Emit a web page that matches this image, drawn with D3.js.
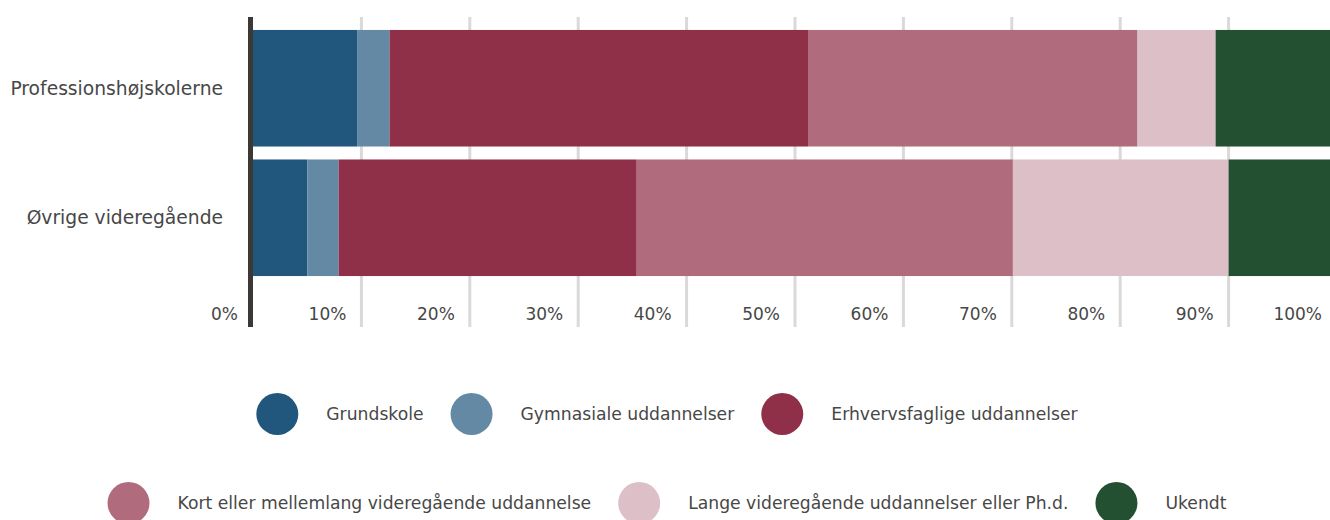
<!DOCTYPE html>
<html>
<head>
<meta charset="utf-8">
<script src="https://cdn.jsdelivr.net/npm/d3@7"></script>
<style>
  body { margin: 0; background: #fff; }
  svg text { font-family: "DejaVu Sans", sans-serif; fill: #474747; }
</style>
</head>
<body>
<div id="chart"></div>
<script>
// data (percent of students)
const categories = ['Professionshøjskolerne', 'Øvrige videregående'];
const seriesNames = [
  'Grundskole',
  'Gymnasiale uddannelser',
  'Erhvervsfaglige uddannelser',
  'Kort eller mellemlang videregående uddannelse',
  'Lange videregående uddannelser eller Ph.d.',
  'Ukendt'
];
const profValues = [9.6, 3.0, 38.6, 30.4, 7.2, 11.2];
const oevrigeValues = [5.0, 2.9, 27.5, 34.7, 19.9, 10.0];
const tickValues = [0, 10, 20, 30, 40, 50, 60, 70, 80, 90, 100];
const colors = ['#22577d', '#6489a5', '#8f2f48', '#b06c7d', '#ddbfc7', '#245032'];
const legendRows = [[0, 1, 2], [3, 4, 5]];

const width = 1330, height = 520;

const svg = d3.select('#chart').append('svg')
  .attr('width', width)
  .attr('height', height);

const xScale = d3.scaleLinear()
  .domain([0, 100])
  .range([253, 1337]);
const yScale = d3.scaleBand()
  .domain(categories)
  .range([17, 289])
  .paddingInner(0.1)
  .paddingOuter(0.1);

const color = d3.scaleOrdinal().domain(seriesNames).range(colors);

// grid lines
svg.append('g')
  .selectAll('line')
  .data(tickValues.filter(d => d > 0 && d < 100))
  .enter().append('line')
  .attr('x1', d => xScale(d))
  .attr('x2', d => xScale(d))
  .attr('y1', 17)
  .attr('y2', 327)
  .attr('stroke', '#d9d9d9')
  .attr('stroke-width', 3);

// stacked bars
const rows = categories.map((c, i) => {
  const vals = i === 0 ? profValues : oevrigeValues;
  const row = {category: c};
  seriesNames.forEach((s, j) => row[s] = vals[j]);
  return row;
});
const stacked = d3.stack().keys(seriesNames)(rows);

svg.append('g')
  .selectAll('g')
  .data(stacked)
  .enter().append('g')
  .attr('fill', d => color(d.key))
  .selectAll('rect')
  .data(d => d)
  .enter().append('rect')
  .attr('x', d => xScale(d[0]))
  .attr('y', d => yScale(d.data.category))
  .attr('width', d => xScale(d[1]) - xScale(d[0]))
  .attr('height', yScale.bandwidth());

// left axis line
svg.append('line')
  .attr('x1', xScale(0) - 2.5)
  .attr('x2', xScale(0) - 2.5)
  .attr('y1', 17)
  .attr('y2', 327)
  .attr('stroke', '#3b3835')
  .attr('stroke-width', 5);

// x tick labels (right aligned, left of each grid line)
svg.append('g')
  .selectAll('text')
  .data(tickValues)
  .enter().append('text')
  .attr('x', d => xScale(d) - 15)
  .attr('y', 320)
  .attr('text-anchor', 'end')
  .style('font-size', '17px')
  .text(d => d + '%');

// category labels
svg.append('g')
  .selectAll('text')
  .data(categories)
  .enter().append('text')
  .attr('x', xScale(0) - 30)
  .attr('y', d => yScale(d) + yScale.bandwidth() / 2)
  .attr('dy', '0.35em')
  .attr('text-anchor', 'end')
  .style('font-size', '18.7px')
  .text(d => d);

// legend, two centred rows
const legendY = [414, 503];
const r = 21, textGap = 49, itemGap = 27;
legendRows.forEach((idx, ri) => {
  const g = svg.append('g');
  let cursor = 0;
  idx.forEach(k => {
    const item = g.append('g');
    item.append('circle')
      .attr('cx', cursor + r)
      .attr('cy', legendY[ri])
      .attr('r', r)
      .attr('fill', colors[k]);
    const t = item.append('text')
      .attr('x', cursor + r + textGap)
      .attr('y', legendY[ri])
      .attr('dy', '0.35em')
      .style('font-size', '17.2px')
      .text(seriesNames[k]);
    cursor += r + textGap + t.node().getComputedTextLength() + itemGap;
  });
  const total = cursor - itemGap;
  g.attr('transform', `translate(${667 - total / 2},0)`);
});
</script>
</body>
</html>
